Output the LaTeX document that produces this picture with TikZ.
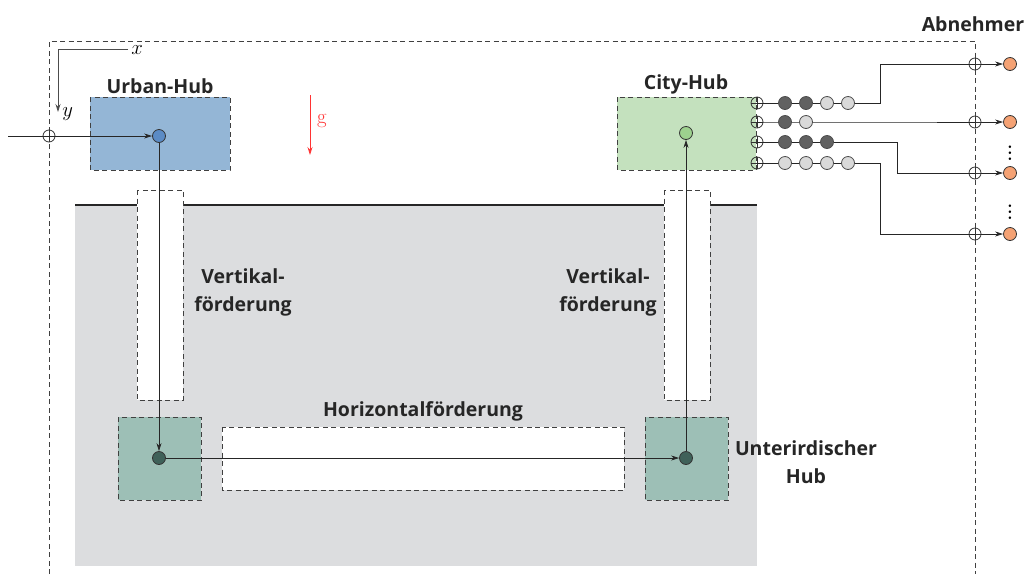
\documentclass[tikz,border=0pt]{standalone}
\usepackage{fontspec}
\newfontfamily\lblfont{Open Sans}
\usetikzlibrary{arrows.meta}
\definecolor{urban}{HTML}{94B6D6}
\definecolor{urbandot}{HTML}{5B8BC5}
\definecolor{city}{HTML}{C4E1BE}
\definecolor{citydot}{HTML}{9DD18E}
\definecolor{under}{HTML}{9DBFB6}
\definecolor{underdot}{HTML}{3F6159}
\definecolor{ground}{HTML}{DCDDDF}
\definecolor{kunde}{HTML}{F5A274}
\colorlet{dk}{black!62}
\colorlet{lt}{black!15}

\begin{document}
\begin{tikzpicture}[x=1pt,y=-1pt,line width=0.8pt,
  >={Stealth[length=8pt,width=5pt]},
  box/.style={draw=black!75,dash pattern=on 5pt off 3.5pt},
  hub/.style={circle,draw=black!80,inner sep=0pt,minimum size=13pt},
  bead/.style={circle,draw=black!70,inner sep=0pt,minimum size=13pt},
  cross/.style={circle,draw=black!80,inner sep=0pt,minimum size=12pt,
    path picture={\draw (path picture bounding box.north)--(path picture bounding box.south)
      (path picture bounding box.west)--(path picture bounding box.east);}},
  lbl/.style={font=\lblfont\bfseries\fontsize{19.5}{28}\selectfont,align=center,text=black!85},
  axlbl/.style={font=\fontsize{20.74}{24}\selectfont,inner sep=1pt}]
  \useasboundingbox (0,0) rectangle (1028,574);
  %Untergrund
  \fill[ground] (75,205) rectangle (757,566);
  \draw[line width=1.4pt,black!85] (75,205) -- (757,205);
  \draw[box,fill=white] (137,190) rectangle (183,400);
  \draw[box,fill=white] (664,190) rectangle (710,400);
  \draw[box,fill=white] (222,427) rectangle (624,490);
  \draw[box,fill=under] (118,417) rectangle (201,500);
  \draw[box,fill=under] (645,417) rectangle (728,500);
  %Systemgrenze
  \draw[box] (49,574) -- (49,41) -- (975,41) -- (975,574);
  %Hubs oben
  \draw[box,fill=urban] (90,97) rectangle (230,170);
  \draw[box,fill=city] (617,97) rectangle (756,170);
  \node[lbl] (uhl) at (160,86) {Urban-Hub};
  \node[lbl] (chl) at (686,84) {City-Hub};
  \node[lbl] (abl) at (973,24) {Abnehmer};
  \node[lbl] (hfl) at (423,411) {Horizontalförderung};
  \node[lbl] (vf1) at (243,292) {Vertikal-\\förderung};
  \node[lbl] (vf2) at (608,292) {Vertikal-\\förderung};
  \node[lbl] (uhb) at (806,462) {Unterirdischer\\Hub};
  %Koordinaten
  \coordinate (O) at (58,49);
  \coordinate (X) at (128,49);
  \coordinate (Y) at (58,112);
  \draw[black!70,->] (X) -| (Y);
  \node[axlbl,anchor=west] (xl) at (130,50) {$x$};
  \node[axlbl,anchor=west] (yl) at (61,114) {$y$};
  \coordinate (g1) at (310,95);
  \coordinate (g2) at (310,155);
  \draw[red!80,->] (g1) -- (g2);
  \node[red!80,axlbl] (gl) at (322,121) {g};
  %Knoten
  \coordinate (in) at (8,136);
  \node[cross] (k0) at (49,136) {};
  \node[hub,fill=urbandot] (uh) at (159,136) {};
  \node[hub,fill=citydot] (ch) at (686,133) {};
  \node[hub,fill=underdot] (u1) at (159,458) {};
  \node[hub,fill=underdot] (u2) at (686,458) {};
  \draw[black!85,->] (in) -- (uh);
  \draw[black!85,->] (uh) -- (u1);
  \draw[black!85,->] (u1) -- (u2);
  \draw[black!85,->] (u2) -- (ch);
  %Ausgaenge
  \foreach \i/\yy/\xb/\yo/\beads in {1/103/880/64/{dk,dk,lt,lt},2/122/900/122/{dk,lt},
      3/142/897/173/{dk,dk,dk},4/163/880/234/{lt,lt,lt,lt}}{
    \node[cross] (c\i) at (757,\yy) {};
    \node[cross] (k\i) at (975,\yo) {};
    \node[hub,fill=kunde] (o\i) at (1010,\yo) {};
    \draw[black!85] (c\i.center) -- (\xb,\yy) |- (k\i.center);
    \draw[black!85,->] (k\i) -- (o\i);
    \foreach \c [count=\j] in \beads
      \node[bead,fill=\c] (b\i\j) at (764+21*\j,\yy) {};
  }
  \node[axlbl,scale=1.5] (d1) at (1010,149) {$\vdots$};
  \node[axlbl,scale=1.5] (d2) at (1010,208) {$\vdots$};
\end{tikzpicture}
\end{document}
